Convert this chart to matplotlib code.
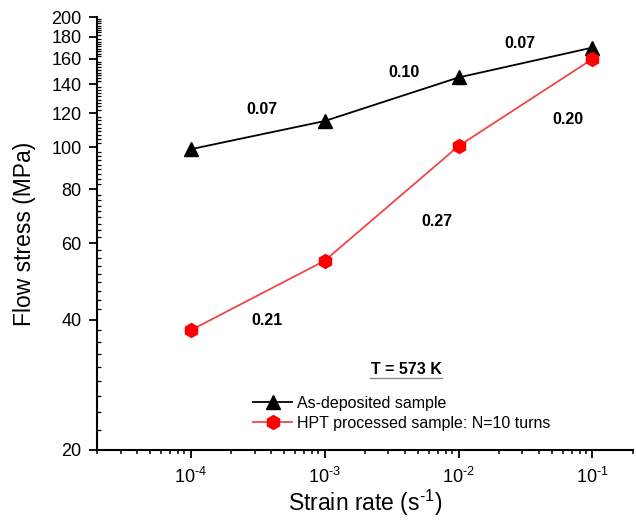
import numpy as np
import matplotlib
matplotlib.use("Agg")
import matplotlib.pyplot as plt
from matplotlib.ticker import FixedLocator, NullFormatter

plt.rcParams["font.family"] = ["Liberation Sans", "DejaVu Sans"]
plt.rcParams["mathtext.fontset"] = "custom"
plt.rcParams["mathtext.rm"] = "Liberation Sans"
plt.rcParams["mathtext.bf"] = "Liberation Sans:bold"

strain_rate = [1e-4, 1e-3, 1e-2, 1e-1]
as_deposited = [99, 115, 145, 170]
hpt_processed = [37.8, 54.7, 100.7, 160]

labels = ["As-deposited sample", "HPT processed sample: N=10 turns"]
slopes_black = ["0.07", "0.10", "0.07"]
slopes_red = ["0.21", "0.27", "0.20"]
y_ticks = [20, 40, 60, 80, 100, 120, 140, 160, 180, 200]
x_ticks = [1e-4, 1e-3, 1e-2, 1e-1]
x_tick_labels = [r"$\mathregular{10^{\text{-}4}}$", r"$\mathregular{10^{\text{-}3}}$",
                 r"$\mathregular{10^{\text{-}2}}$", r"$\mathregular{10^{\text{-}1}}$"]

fig = plt.figure(figsize=(6.36, 5.25), dpi=100)
ax = fig.add_axes([0.1525, 0.1429, 0.8425, 0.8247])

ax.plot(strain_rate, as_deposited, color="black", lw=1.3, marker="^",
        ms=10, mfc="black", mec="black", label=labels[0])
ax.plot(strain_rate, hpt_processed, color="#f04646", lw=1.3, marker="h",
        ms=10, mfc="red", mec="red", label=labels[1])

ax.set_xscale("log")
ax.set_yscale("log")
ax.set_xlim(2e-5, 0.2)
ax.set_ylim(20, 200)

# y ticks: majors every 20, 8 minors in between
ax.yaxis.set_major_locator(FixedLocator(y_ticks))
ax.yaxis.set_major_formatter(plt.FixedFormatter([str(v) for v in y_ticks]))
minor_y = [20 + k * 20 / 9 for k in range(82) if k % 9 != 0]
ax.yaxis.set_minor_locator(FixedLocator(minor_y))
ax.yaxis.set_minor_formatter(NullFormatter())

ax.set_xticks(x_ticks)
ax.set_xticklabels(x_tick_labels)
ax.xaxis.set_minor_formatter(NullFormatter())

for s in ["top", "right"]:
    ax.spines[s].set_visible(False)
for s in ["left", "bottom"]:
    ax.spines[s].set_linewidth(1.5)

ax.tick_params(axis="both", which="major", direction="out", length=6,
               width=1.3, labelsize=13)
ax.tick_params(axis="y", which="major", pad=5)
ax.tick_params(axis="y", which="minor", direction="in", length=3, width=0.9)
ax.tick_params(axis="x", which="minor", direction="out", length=3, width=1.1)
ax.tick_params(axis="x", which="major", pad=6)

ax.set_xlabel(r"Strain rate (s$\mathregular{^{\text{-}1}}$)", fontsize=16.5, labelpad=1)
ax.set_ylabel("Flow stress (MPa)", fontsize=16.5, labelpad=11)

# strain rate sensitivity labels
black_pos = [(3.4e-4, 122), (3.9e-3, 148.5), (2.85e-2, 174)]
red_pos = [(3.7e-4, 39.9), (6.86e-3, 67.3), (6.6e-2, 115.7)]
for (x, y), t in zip(black_pos, slopes_black):
    ax.text(x, y, t, fontsize=11.5, fontweight="bold", ha="center", va="center")
for (x, y), t in zip(red_pos, slopes_red):
    ax.text(x, y, t, fontsize=11.5, fontweight="bold", ha="center", va="center")

ax.text(0.577, 0.185, "T = 573 K", transform=ax.transAxes, fontsize=11.5,
        fontweight="bold", ha="center", va="center")
ax.plot([0.509, 0.644], [0.166, 0.166], transform=ax.transAxes,
        color="#888888", lw=1)

ax.legend(loc="upper left", bbox_to_anchor=(0.28, 0.14), frameon=False,
          fontsize=11.5, handlelength=2.4, handletextpad=0.3,
          labelspacing=0.3, borderaxespad=0)

fig.savefig("out.png", dpi=100)
